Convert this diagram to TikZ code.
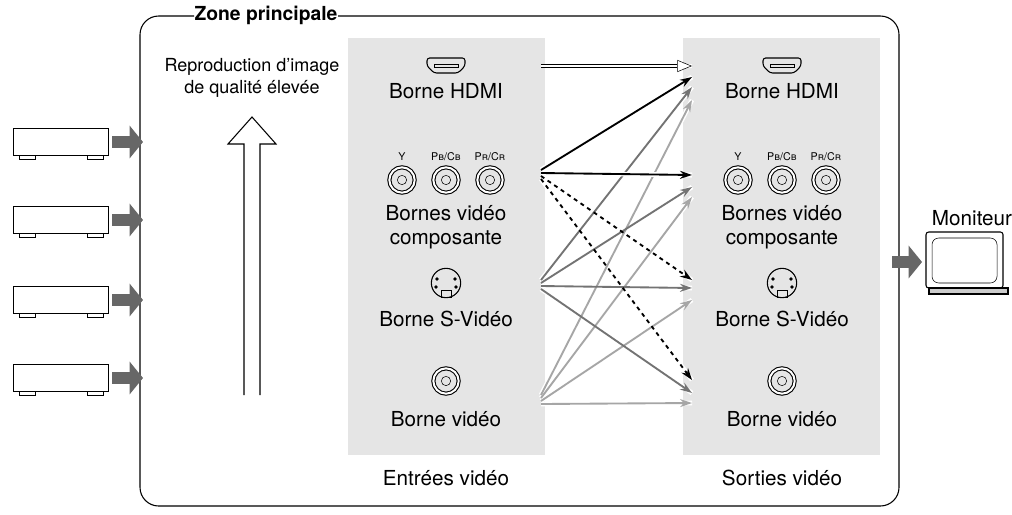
\documentclass[tikz,border=0pt]{standalone}
\usepackage{fontspec}
\setmainfont{TeX Gyre Heros}
\usetikzlibrary{arrows.meta, positioning}
\definecolor{panelgray}{gray}{0.9}
\definecolor{midgray}{gray}{0.45}
\definecolor{lightgray}{gray}{0.65}

\begin{document}
\begin{tikzpicture}[x=0.75pt, y=-0.75pt,
        label/.style={font=\fontsize{15.5}{18}\selectfont, align=center, inner sep=1pt},
        small/.style={font=\fontsize{8}{9}\selectfont, inner sep=0pt},
        solidlink/.style={-{Stealth[length=9pt, width=6pt]}, line width=1.4pt},
        feed/.style={-{Triangle[length=10pt, width=24pt]}, line width=9pt, midgray!90!black},
        jack/.style={circle, draw, thick, minimum size=19pt, double, double distance=1.5pt, inner sep=0pt}
        ]
        \useasboundingbox (0,0) rectangle (1012,514);

        % Frame and panels
        \draw[thick, rounded corners=14pt] (194,16) -- (140,16) -- (140,506) -- (899,506) -- (899,16) -- (338,16);
        \node[font=\bfseries\fontsize{14.5}{17}\selectfont] (zone) at (266,15) {Zone principale};
        \fill[panelgray] (348,38) rectangle (545,455);
        \fill[panelgray] (683,38) rectangle (880,455);

        % Terminals, inputs and outputs
        \foreach \side/\cx in {in/446, out/782} {
            \draw[thick, rounded corners=2pt] (\cx-19,58) -- (\cx+19,58) -- (\cx+19,66) -- (\cx+12,73) -- (\cx-12,73) -- (\cx-19,66) -- cycle;
            \draw (\cx-12,64) rectangle (\cx+12,67);
            \node[label] (hdmi\side) at (\cx,91) {Borne HDMI};
            \node[small] at (\cx-44,157) {Y};
            \node[small] at (\cx,157) {P\textsc{b}/C\textsc{b}};
            \node[small] at (\cx+44,157) {P\textsc{r}/C\textsc{r}};
            \foreach \dx in {-44,0,44} {
                \node[jack] at (\cx+\dx,180) {};
                \draw (\cx+\dx,180) circle (3.5pt);
            }
            \node[label] (comp\side) at (\cx,227) {Bornes vidéo\\composante};
            \draw[thick] (\cx,283) circle (11pt);
            \fill (\cx-9,279) circle (1.4pt) (\cx+9,279) circle (1.4pt) (\cx-10,287) circle (1.4pt) (\cx+10,287) circle (1.4pt);
            \draw (\cx-5,290) rectangle (\cx+5,297);
            \node[label] (svid\side) at (\cx,319) {Borne S-Vidéo};
            \node[jack] at (\cx,381) {};
            \draw (\cx,381) circle (3.5pt);
            \node[label] (cvbs\side) at (\cx,419) {Borne vidéo};
        }
        \node[label] (inlabel) at (446,478) {Entrées vidéo};
        \node[label] (outlabel) at (782,478) {Sorties vidéo};

        % Connectors
        \coordinate (h0) at (541,66);
        \coordinate (h1) at (692,66);
        \draw[line width=3pt, white] (h0) -- (h1);
        \draw[-{Triangle[open, length=11pt, width=9pt]}, double, double distance=2pt, thin] (h0) -- (h1);
        \foreach \src/\yy/\ta/\tb/\tc/\td in {
                cv/400/100/197/300/403,
                sv/285/87/187/288/393,
                cp/175/77/175/280/380} {
            \foreach \t [count=\i] in {\ta,\tb,\tc,\td} {
                \coordinate (\src s\i) at (541,\yy-8+\i*3);
                \coordinate (\src t\i) at (692,\t);
                \draw[white, line width=3.5pt] (\src s\i) -- (\src t\i);
            }
        }
        \foreach \i in {1,...,4} {
            \draw[solidlink, lightgray] (cvs\i) -- (cvt\i);
            \draw[solidlink, midgray] (svs\i) -- (svt\i);
        }
        \draw[white, line width=3.5pt] (cps1) -- (cpt1) (cps2) -- (cpt2);
        \draw[solidlink] (cps1) -- (cpt1);
        \draw[solidlink] (cps2) -- (cpt2);
        \draw[solidlink, dashed] (cps3) -- (cpt3);
        \draw[solidlink, dashed] (cps4) -- (cpt4);

        % Source devices
        \foreach \yy [count=\k] in {142,220,300,378} {
            \draw (13,\yy-14) rectangle (108,\yy+13);
            \draw (19,\yy+13) rectangle (35,\yy+17) (87,\yy+13) rectangle (103,\yy+17);
            \coordinate (src\k) at (112,\yy);
            \coordinate (dst\k) at (143,\yy);
            \draw[feed] (src\k) -- (dst\k);
        }

        % Quality arrow
        \node[font=\fontsize{13.5}{17}\selectfont, align=center] (quality) at (252,78) {Reproduction d’image\\de qualité élevée};
        \draw[thick, fill=white] (244,395) -- (244,144) -- (228,144) -- (252,117) -- (276,144) -- (260,144) -- (260,395);

        % Monitor
        \node[label] (moniteur) at (972,218) {Moniteur};
        \coordinate (m0) at (892,262);
        \coordinate (m1) at (922,262);
        \draw[feed] (m0) -- (m1);
        \draw[thick, rounded corners=2pt, fill=white] (926,232) rectangle (1003,288);
        \draw[rounded corners=5pt] (932,238) rectangle (997,283);
        \draw[thick, fill=gray!40] (929,288) rectangle (1008,294);
    \end{tikzpicture}
\end{document}
